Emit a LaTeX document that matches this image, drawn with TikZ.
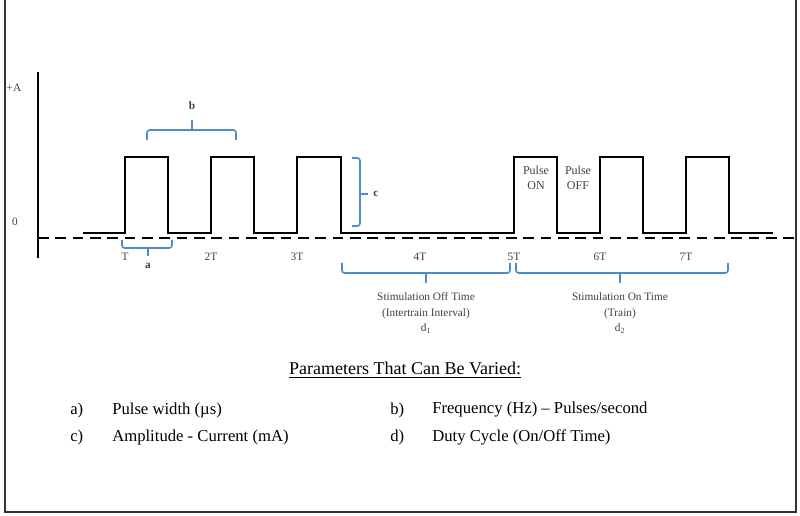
\documentclass[tikz,border=0pt]{standalone}
\usepackage{fontspec}
\setmainfont{Liberation Serif}
\usetikzlibrary{decorations.pathreplacing}
\definecolor{bluebr}{RGB}{80,140,200}
\begin{document}
\begin{tikzpicture}[x=0.75pt,y=-0.75pt,
  sig/.style={line width=1.4pt},
  bracestyle/.style={draw=bluebr,line width=1.2pt,rounded corners=2pt},
  small/.style={font=\fontsize{8.5}{10}\selectfont,text=black!75,align=center,inner sep=0pt},
  item/.style={font=\fontsize{12.5}{14}\selectfont,anchor=west,inner sep=0pt}]
\useasboundingbox (0,0) rectangle (800,516);
\draw[line width=0.8pt,black!80] (5,-2) -- (5,512) -- (796,512) -- (796,-2);
\draw[line width=1.4pt] (38,72) -- (38,258);
\draw[line width=1.4pt,dash pattern=on 8pt off 5pt] (38,238) -- (796,238);
\draw[sig] (83,233) -- (125,233) -- (125,157) -- (168,157) -- (168,233)
 -- (211,233) -- (211,157) -- (254,157) -- (254,233)
 -- (297,233) -- (297,157) -- (341,157) -- (341,233)
 -- (514,233) -- (514,157) -- (557,157) -- (557,233)
 -- (600,233) -- (600,157) -- (643,157) -- (643,233)
 -- (686,233) -- (686,157) -- (729,157) -- (729,233) -- (773,233);
\node[small] (pa) at (14,88) {+A};
\node[small] (p0) at (15,222) {0};
\foreach \x/\t in {125/T,211/2T,297/3T,420/4T,514/5T,600/6T,686/7T}
  \node[small] (t\t) at (\x,257) {\t};
% b
\draw[bracestyle] (147,140) -- (147,130) -- (236,130) -- (236,140);
\draw[bracestyle] (192,130) -- (192,120);
\node[small,font=\bfseries\fontsize{8.5}{10}\selectfont] (lb) at (192,106) {b};
% a
\draw[bracestyle] (122,240) -- (122,248) -- (172,248) -- (172,240);
\draw[bracestyle] (148,248) -- (148,256);
\node[small,font=\bfseries\fontsize{8.5}{10}\selectfont] (la) at (148,266) {a};
% c
\draw[bracestyle] (352,158) -- (360,158) -- (360,226) -- (352,226);
\draw[bracestyle] (360,194) -- (368,194);
\node[small,font=\bfseries\fontsize{8.5}{10}\selectfont] (lc) at (376,194) {c};
% d1 d2
\draw[bracestyle] (342,263) -- (342,273) -- (510,273) -- (510,263);
\draw[bracestyle] (426,273) -- (426,283);
\draw[bracestyle] (516,263) -- (516,273) -- (728,273) -- (728,263);
\draw[bracestyle] (620,273) -- (620,283);
\node[small] (d1) at (426,313) {Stimulation Off Time\\[2pt](Intertrain Interval)\\[1pt]d\textsubscript{1}};
\node[small] (d2) at (620,313) {Stimulation On Time\\[2pt](Train)\\[1pt]d\textsubscript{2}};
\node[small,font=\fontsize{9}{10.5}\selectfont] (on) at (536,178) {Pulse\\[1pt]ON};
\node[small,font=\fontsize{9}{10.5}\selectfont] (off) at (578,178) {Pulse\\[1pt]OFF};
\node[font=\fontsize{13.5}{15}\selectfont,inner sep=0pt] (title) at (405,370) {\underline{Parameters That Can Be Varied:}};
\node[item] (ia) at (70,410) {a)};
\node[item] (ta) at (112,410) {Pulse width (µs)};
\node[item] (ic) at (70,437) {c)};
\node[item] (tc) at (112,437) {Amplitude - Current (mA)};
\node[item] (ib) at (390,410) {b)};
\node[item] (tb) at (432,410) {Frequency (Hz) – Pulses/second};
\node[item] (id) at (390,437) {d)};
\node[item] (td) at (432,437) {Duty Cycle (On/Off Time)};
\end{tikzpicture}
\end{document}
